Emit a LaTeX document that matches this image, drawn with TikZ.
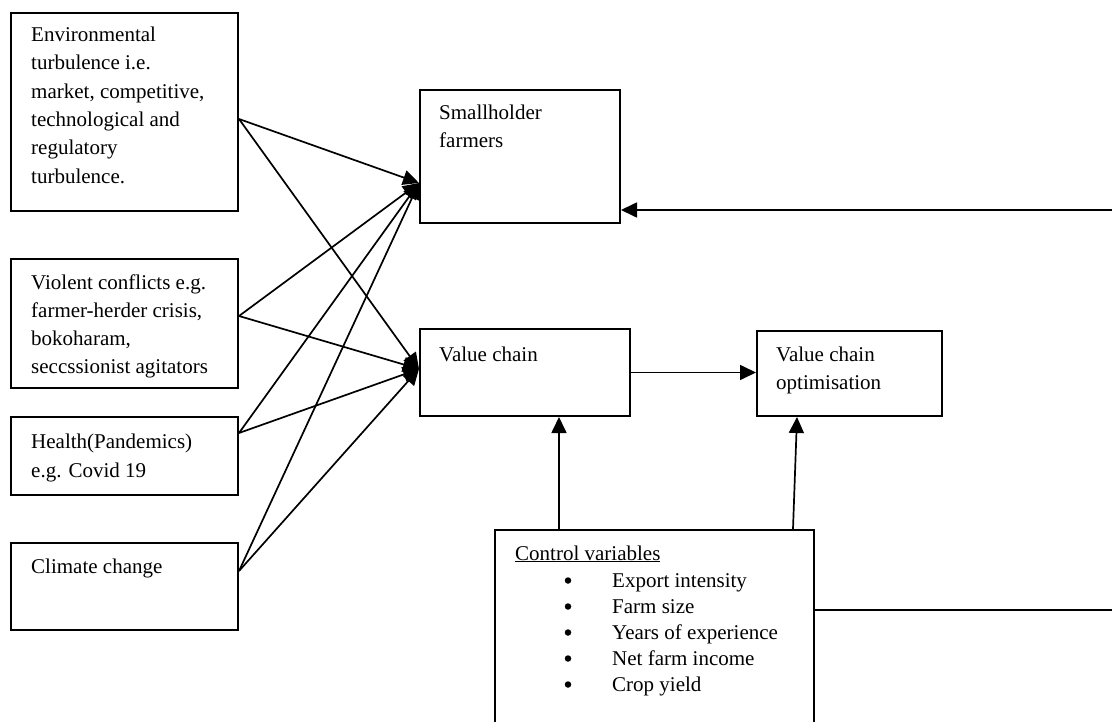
\documentclass[tikz,border=0pt]{standalone}
\usepackage{fontspec}
\setmainfont{Liberation Serif}
\usetikzlibrary{arrows.meta,calc}
\begin{document}
\begin{tikzpicture}[x=1pt,y=-1pt,
  box/.style={draw, line width=2pt, inner sep=0pt, anchor=north west},
  txt/.style={anchor=base west, inner sep=0pt, font=\fontsize{21}{28}\selectfont},
  bul/.style={anchor=center, inner sep=0pt},
  arr/.style={line width=1.7pt, -{Triangle[length=16pt,width=15pt]}},
  ln/.style={line width=1.7pt}]
\useasboundingbox (0,0) rectangle (1112,722);
\fill[white] (0,0) rectangle (1112,722);

% boxes
\node[box, minimum width=227pt, minimum height=198pt] (env) at (10,12) {};
\node[box, minimum width=227pt, minimum height=129pt] (vio) at (10,258) {};
\node[box, minimum width=227pt, minimum height=78pt] (hea) at (10,416) {};
\node[box, minimum width=227pt, minimum height=87pt] (cli) at (10,542) {};
\node[box, minimum width=200pt, minimum height=133pt] (sh) at (419,89) {};
\node[box, minimum width=210pt, minimum height=87pt] (vc) at (419,328) {};
\node[box, minimum width=185pt, minimum height=85pt] (vco) at (756,330) {};
\node[box, minimum width=319pt, minimum height=231pt] (ctrl) at (494,529) {};

% texts
\foreach \t [count=\i] in {Environmental, turbulence i.e., {market, competitive,}, technological and, regulatory, turbulence.}
  \node[txt] (envt\i) at (31, {41.7+(\i-1)*28.3}) {\t};
\foreach \t [count=\i] in {Violent conflicts e.g., {farmer-herder crisis,}, {bokoharam,}, seccssionist agitators}
  \node[txt] (viot\i) at (31, {290+(\i-1)*27.8}) {\t};
\foreach \t [count=\i] in {Health(Pandemics), e.g. Covid 19}
  \node[txt] (heat\i) at (31, {448+(\i-1)*29}) {\t};
\node[txt] (clit) at (31,573) {Climate change};
\node[txt] (sht1) at (439,120) {Smallholder};
\node[txt] (sht2) at (439,148) {farmers};
\node[txt] (vct) at (439,361) {Value chain};
\node[txt] (vcot1) at (776,361) {Value chain};
\node[txt] (vcot2) at (776,389) {optimisation};
\node[txt] (ctrlt) at (515,560) {\underline{Control variables}};
\foreach \t [count=\i] in {Export intensity, Farm size, Years of experience, Net farm income, Crop yield}{
  \node[bul, circle, fill, minimum size=6.5pt] (bul\i) at (568, {587+(\i-1)*26-6.5}) {};
  \node[txt] (item\i) at (612, {587+(\i-1)*26}) {\t};
}

% connectors from left boxes
\coordinate (shin) at ([yshift=-26.5pt]sh.west);
\coordinate (vcin) at ([yshift=3.5pt]vc.west);
\coordinate (envout) at ([yshift=-7pt]env.east);
\coordinate (vioout) at ([yshift=7.5pt]vio.east);
\coordinate (heaout) at ([yshift=23pt]hea.east);
\coordinate (cliout) at ([yshift=15.5pt]cli.east);
\foreach \s in {envout,vioout,heaout,cliout}{
  \draw[arr] (\s) -- (shin);
  \draw[arr] (\s) -- (vcin);
}

% right-hand feedback lines
\coordinate (rtop) at (1114,210);
\coordinate (rbot) at (1114,610);
\draw[arr] (rtop) -- (rtop -| sh.east);
\draw[ln] (ctrl.east |- rbot) -- (rbot);

% value chain to optimisation
\draw[arr] (vc.east) -- (vc.east -| vco.west);

% control variables upward arrows
\coordinate (ca) at (559,0);
\coordinate (cb1) at (793,0);
\coordinate (cb2) at (797,0);
\draw[arr] (ctrl.north -| ca) -- (vc.south -| ca);
\draw[arr] (ctrl.north -| cb1) -- (vco.south -| cb2);
\end{tikzpicture}
\end{document}
